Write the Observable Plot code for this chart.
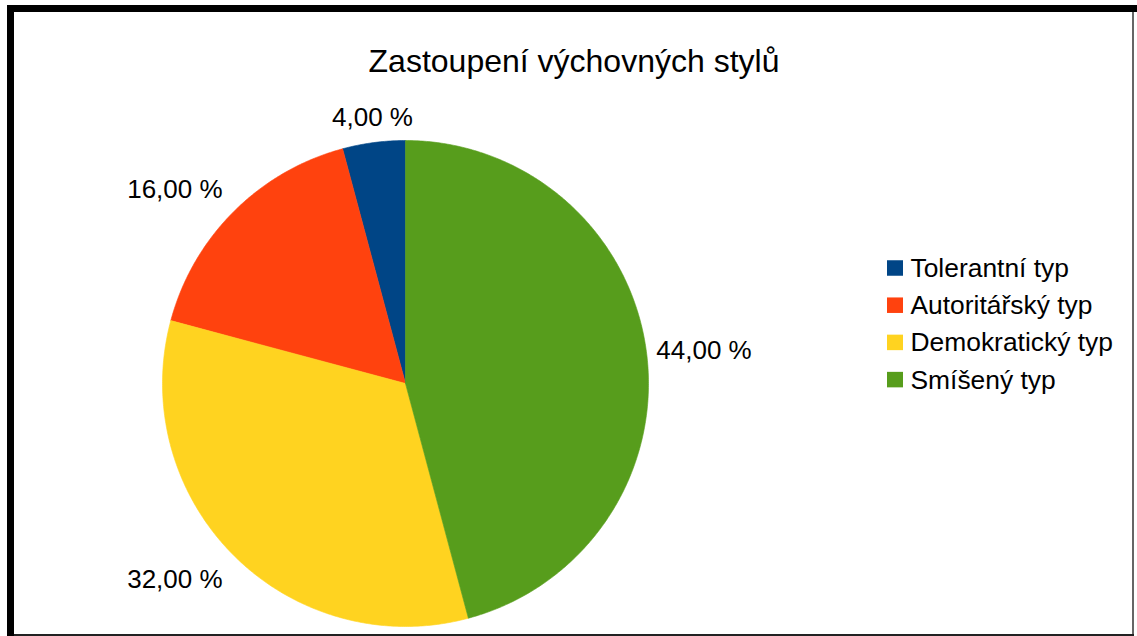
<!DOCTYPE html>
<html><head><meta charset="utf-8">
<script src="https://cdn.jsdelivr.net/npm/d3@7"></script>
<script src="https://cdn.jsdelivr.net/npm/@observablehq/plot@0.6"></script>
<style>
body{margin:0;background:#fff;font-family:"Liberation Sans",Arial,sans-serif;}
#page{position:relative;width:1137px;height:636px;overflow:hidden;background:#fff}
.frame{position:absolute}
#title{position:absolute;left:14px;width:1120px;top:46px;line-height:30px;text-align:center;font-size:32px;color:#000;white-space:nowrap}
#chart{position:absolute;left:0;top:95px}
</style></head><body>
<div id="page">
<div class="frame" style="left:7px;top:5px;width:1130px;height:7px;background:#000"></div>
<div class="frame" style="left:7px;top:5px;width:7px;height:631px;background:#000"></div>
<div class="frame" style="left:1132px;top:12px;width:2px;height:624px;background:#666"></div>
<div class="frame" style="left:14px;top:634px;width:1120px;height:2px;background:#222"></div>
<div id="title">Zastoupení výchovných stylů</div>
<div id="chart"></div>
</div>
<script>
const categories = ["Tolerantní typ", "Autoritářský typ", "Demokratický typ", "Smíšený typ"];
const values = [4, 16, 32, 44];
const valueLabels = ["4,00 %", "16,00 %", "32,00 %", "44,00 %"];
const colors = ["#004586", "#ff420e", "#ffd320", "#579d1c"];

// layout (page pixel coordinates)
const W = 1137, TOP = 95, H = 636 - TOP;
const cx = 405, cy = 383, R = 243;
const FONT = "Liberation Sans, Arial, sans-serif";

const arcs = d3.pie().sort(null).value(d => d.value).startAngle(0).endAngle(-2 * Math.PI)(
  categories.map((name, i) => ({name, value: values[i], label: valueLabels[i]}))
);

// slice polygons
const slicePts = [];
for (const a of arcs) {
  const name = a.data.name;
  slicePts.push({name, x: cx, y: cy});
  const n = Math.max(2, Math.ceil(Math.abs(a.endAngle - a.startAngle) / (Math.PI / 360)));
  for (let k = 0; k <= n; k++) {
    const t = a.startAngle + (a.endAngle - a.startAngle) * k / n;
    slicePts.push({name, x: cx + R * Math.sin(t), y: cy - R * Math.cos(t)});
  }
  slicePts.push({name, x: cx, y: cy});
}

// labels
const labelData = arcs.map(a => {
  const m = (a.startAngle + a.endAngle) / 2;
  const dx = Math.sin(m), dy = -Math.cos(m);
  const rr = R + 10;
  const textAnchor = Math.abs(dx) < 0.3 ? "middle" : dx > 0 ? "start" : "end";
  const lineAnchor = dy < -0.3 ? "bottom" : dy > 0.3 ? "top" : "middle";
  const ox = textAnchor === "end" ? -4 : 0;
  const oy = lineAnchor === "bottom" ? -7 : lineAnchor === "top" ? 7 : 0;
  return {label: a.data.label, x: cx + rr * dx + ox, y: cy + rr * dy + oy, textAnchor, lineAnchor};
});
const labelMarks = d3.groups(labelData, d => d.textAnchor + "|" + d.lineAnchor).map(([key, rows]) =>
  Plot.text(rows, {x: "x", y: "y", text: "label", textAnchor: rows[0].textAnchor, lineAnchor: rows[0].lineAnchor,
    fontSize: 26, fontFamily: FONT, fill: "#000"})
);

// legend
const lgX = 887, lgY0 = 268, lgStep = 37.2, sw = 15.5;
const legendData = categories.map((name, i) => ({name, y: lgY0 + i * lgStep}));

const chart = Plot.plot({
  width: W, height: H, margin: 0,
  x: {domain: [0, W], range: [0, W], axis: null},
  y: {domain: [TOP, TOP + H], range: [0, H], axis: null},
  color: {domain: categories, range: colors},
  style: {background: "transparent", fontFamily: FONT},
  marks: [
    Plot.line(slicePts, {x: "x", y: "y", z: "name", fill: "name", stroke: "name", strokeWidth: 0.6, curve: "linear"}),
    ...labelMarks,
    Plot.rect(legendData, {x1: () => lgX, x2: () => lgX + sw + 0.5, y1: d => d.y - sw / 2, y2: d => d.y + sw / 2, fill: "name"}),
    Plot.text(legendData, {x: () => lgX + 23, y: "y", text: "name", textAnchor: "start", lineAnchor: "middle",
      fontSize: 26.4, fontFamily: FONT, fill: "#000"})
  ]
});
document.getElementById("chart").appendChild(chart);
</script>
</body></html>
